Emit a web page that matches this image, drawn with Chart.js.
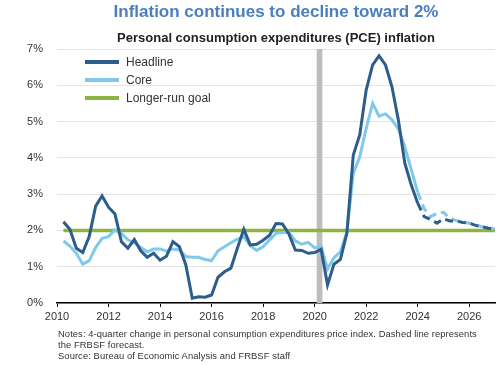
<!DOCTYPE html>
<html>
<head>
<meta charset="utf-8">
<script src="https://cdn.jsdelivr.net/npm/chart.js@4"></script>
<style>
  body { margin: 0; background: #fff; font-family: "Liberation Sans", Arial, sans-serif; }
  #wrap { position: relative; width: 500px; height: 365px; overflow: hidden; }
  #chart { position: absolute; left: 0; top: 0; }
  .title { position: absolute; left: 26px; width: 500px; text-align: center; font-weight: bold; white-space: nowrap; }
  #t1 { top: 2px; font-size: 17px; line-height: 20px; color: #4a7ebf; }
  #t2 { top: 30px; font-size: 13px; line-height: 16px; color: #222; }
  #legend { position: absolute; left: 85px; top: 54px; font-size: 12px; color: #333; }
  .row { position: relative; height: 18px; line-height: 16px; }
  .row span.sw { position: absolute; left: 0; top: 6px; width: 34px; height: 4px; }
  .row span.lb { position: absolute; left: 41px; top: 0; white-space: nowrap; }
  #notes { position: absolute; left: 58px; top: 328px; font-size: 9.4px; letter-spacing: 0.08px; line-height: 11px; color: #333; white-space: nowrap; }
</style>
</head>
<body>
<div id="wrap">
  <canvas id="chart" width="500" height="365"></canvas>
  <div class="title" id="t1">Inflation continues to decline toward 2%</div>
  <div class="title" id="t2">Personal consumption expenditures (PCE) inflation</div>
  <div id="legend"></div>
  <div id="notes">Notes: 4-quarter change in personal consumption expenditures price index. Dashed line represents<br>the FRBSF forecast.<br>Source: Bureau of Economic Analysis and FRBSF staff</div>
</div>
<script>
// DATA (quarterly, 4-quarter % change)
const firstQuarter = 2010.25;     // first actual observation
const forecastStart = 2024.0;     // last actual = first forecast point
const xTickYears = [2010, 2012, 2014, 2016, 2018, 2020, 2022, 2024, 2026];
const yTicks = [0, 1, 2, 3, 4, 5, 6, 7];
const goalRate = 2;
const goalSpan = [2010.25, 2027];
const recessionSpan = [2020.08, 2020.3];

const headlineActual = [
  2.24, 2.03, 1.51,
  1.39, 1.83, 2.67, 2.95,
  2.64, 2.45, 1.69, 1.51,
  1.75, 1.44, 1.26, 1.37,
  1.18, 1.29, 1.69, 1.55,
  1.05, 0.13, 0.17, 0.16,
  0.22, 0.71, 0.86, 0.96,
  1.51, 2.03, 1.60, 1.62,
  1.73, 1.87, 2.19, 2.18,
  1.90, 1.46, 1.45, 1.37,
  1.39, 1.48, 0.50, 1.07,
  1.20, 1.92, 4.08, 4.63,
  5.87, 6.56, 6.81, 6.56,
  5.96, 5.04, 3.85, 3.25,
  2.75
];
const coreActual = [
  1.71, 1.57, 1.37,
  1.07, 1.17, 1.53, 1.78,
  1.83, 2.01, 1.92, 1.74,
  1.66, 1.53, 1.41, 1.49,
  1.49, 1.43, 1.49, 1.46,
  1.28, 1.26, 1.26, 1.20,
  1.17, 1.44, 1.55, 1.66,
  1.76, 1.82, 1.58, 1.45,
  1.55, 1.74, 1.92, 1.94,
  1.95, 1.71, 1.62, 1.67,
  1.52, 1.56, 0.94, 1.25,
  1.41, 1.95, 3.57, 4.03,
  4.81, 5.50, 5.15, 5.21,
  5.05, 4.80, 4.30, 3.68,
  3.05
];
const headlineForecast = [2.75, 2.38, 2.30, 2.20, 2.32, 2.26, 2.26, 2.22, 2.20, 2.14, 2.10, 2.06, 2.03];
const coreForecast = [3.05, 2.60, 2.38, 2.47, 2.50, 2.33, 2.27, 2.24, 2.20, 2.15, 2.10, 2.07, 2.04];

// COLORS
const navy = '#2c5d8c';
const lightBlue = '#80c9e8';
const green = '#8db441';
const recessionGray = '#bdbdbd';

const toPoints = (start, vals) => vals.map((v, i) => ({ x: start + i * 0.25, y: v }));

// LEGEND (html)
const legendItems = [['Headline', navy], ['Core', lightBlue], ['Longer-run goal', green]];
document.getElementById('legend').innerHTML = legendItems.map(([name, c]) =>
  `<div class="row"><span class="sw" style="background:${c}"></span><span class="lb">${name}</span></div>`
).join('');

// RECESSION SHADING
const recessionPlugin = {
  id: 'recession',
  beforeDatasetsDraw(chart) {
    const { ctx, chartArea, scales } = chart;
    const x0 = scales.x.getPixelForValue(recessionSpan[0]);
    const x1 = scales.x.getPixelForValue(recessionSpan[1]);
    ctx.save();
    ctx.fillStyle = recessionGray;
    ctx.fillRect(x0, chartArea.top, x1 - x0, chartArea.bottom - chartArea.top);
    ctx.restore();
  }
};

const font = { family: '"Liberation Sans", Arial, sans-serif', size: 11 };

const lineBase = { pointRadius: 0, tension: 0, fill: false, borderWidth: 3 };

new Chart(document.getElementById('chart').getContext('2d'), {
  type: 'line',
  data: {
    datasets: [
      { ...lineBase, label: 'Longer-run goal', data: goalSpan.map(x => ({ x, y: goalRate })), borderColor: green, borderWidth: 3.5, order: 3 },
      { ...lineBase, label: 'Core', data: toPoints(firstQuarter, coreActual), borderColor: lightBlue, order: 2 },
      { ...lineBase, label: 'Core forecast', data: toPoints(forecastStart, coreForecast), borderColor: lightBlue, borderDash: [8, 5], order: 2 },
      { ...lineBase, label: 'Headline', data: toPoints(firstQuarter, headlineActual), borderColor: navy, order: 1 },
      { ...lineBase, label: 'Headline forecast', data: toPoints(forecastStart, headlineForecast), borderColor: navy, borderDash: [8, 5], order: 1 }
    ]
  },
  options: {
    responsive: false,
    animation: false,
    events: [],
    layout: { padding: { top: 49, right: 5, left: 0, bottom: 0 } },
    plugins: { legend: { display: false }, tooltip: { enabled: false } },
    scales: {
      x: {
        type: 'linear',
        min: 2010,
        max: 2027,
        afterBuildTicks: s => { s.ticks = xTickYears.map(v => ({ value: v })); },
        afterFit: s => { s.height = 62; },
        grid: { display: true, drawOnChartArea: false, drawTicks: true, tickLength: 4, color: '#000', lineWidth: 1 },
        border: { display: true, color: '#000', width: 1.5 },
        ticks: { font, color: '#333', padding: 3, maxRotation: 0, autoSkip: false, callback: v => String(v) }
      },
      y: {
        min: 0,
        max: 7,
        afterBuildTicks: s => { s.ticks = yTicks.map(v => ({ value: v })); },
        afterFit: s => { s.width = 57; },
        grid: { color: '#e4e4e4', lineWidth: 1, drawTicks: false },
        border: { display: false },
        ticks: { font, color: '#333', padding: 14, callback: v => v + '%' }
      }
    }
  },
  plugins: [recessionPlugin]
});
</script>
</body>
</html>
